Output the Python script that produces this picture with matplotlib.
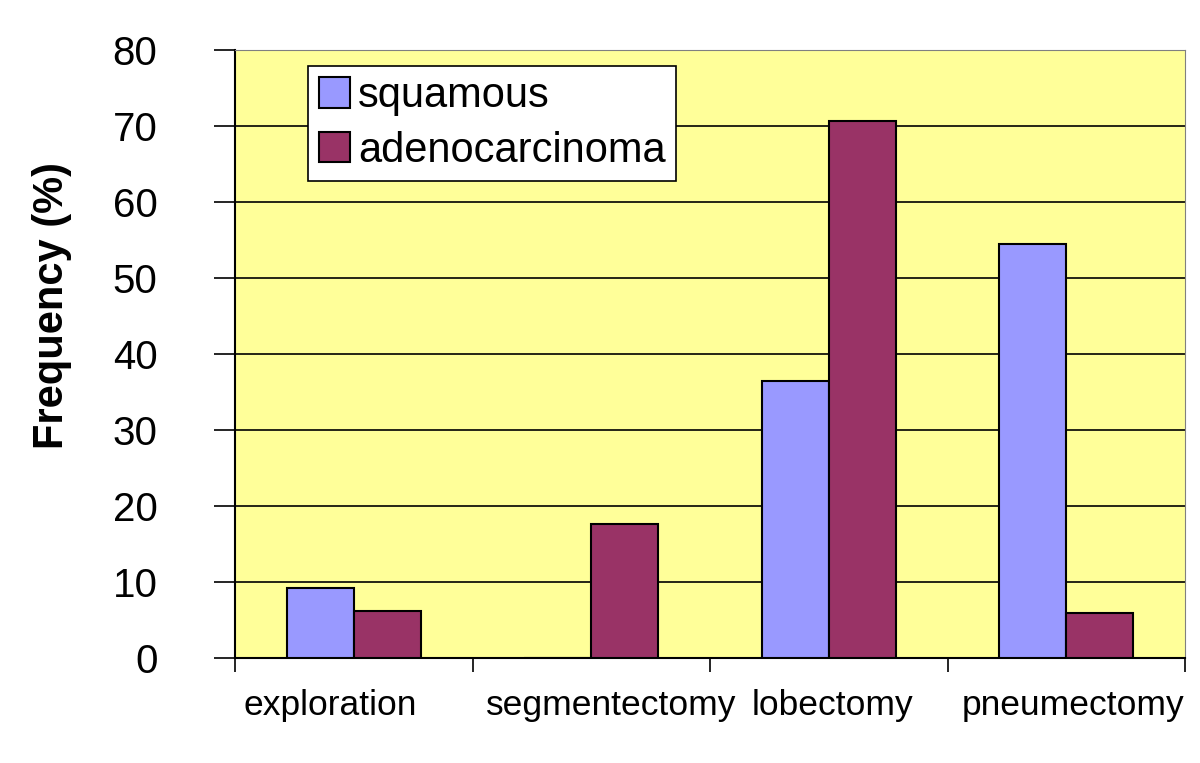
import matplotlib
matplotlib.use("Agg")
import matplotlib.pyplot as plt
import matplotlib.transforms as mtransforms
import numpy as np

plt.rcParams['font.family'] = ['Liberation Sans', 'DejaVu Sans']

# Data
categories = ["exploration", "segmentectomy", "lobectomy", "pneumectomy"]
squamous = [9.2, 0.0, 36.4, 54.4]
adenocarcinoma = [6.2, 17.6, 70.6, 5.9]

fig = plt.figure(figsize=(12, 7.63), dpi=100)
ax = fig.add_axes([0.196, 0.1376, 0.7915, 0.797])
ax.set_facecolor('#FFFF99')

x = np.arange(len(categories))
w = 0.282
ax.bar(x - w / 2, squamous, w, color='#9999FF', edgecolor='black', linewidth=1.5,
       label='squamous', zorder=3)
ax.bar(x + w / 2, adenocarcinoma, w, color='#993366', edgecolor='black', linewidth=1.5,
       label='adenocarcinoma', zorder=3)

ax.set_xlim(-0.5, len(categories) - 0.5)
ax.set_ylim(0, 80)
ax.set_yticks(np.arange(0, 81, 10))
ax.yaxis.grid(True, color='black', linewidth=1.2, zorder=0)
ax.set_axisbelow(True)

# category labels, tick marks on the boundaries
ax.set_xticks(x)
ax.set_xticklabels(categories, fontsize=25.5)
ax.tick_params(axis='x', length=0, pad=22)
ax.set_xticks(np.arange(-0.5, len(categories)), minor=True)
ax.tick_params(axis='x', which='minor', length=10, width=1.2, direction='out')
ax.tick_params(axis='y', labelsize=29, length=15, width=1.2, direction='out', pad=41)

# small horizontal nudges like the original's label placement (pixels)
nudges = [-24, 20, 4, 7]
for lab, dx in zip(ax.get_xticklabels(), nudges):
    lab.set_transform(lab.get_transform() + mtransforms.ScaledTranslation(dx / 100, 0, fig.dpi_scale_trans))

ax.spines['left'].set_linewidth(1.5)
ax.spines['bottom'].set_linewidth(1.5)
ax.spines['top'].set_color('#808080')
ax.spines['right'].set_color('#808080')

ax.set_ylabel('Frequency (%)', fontsize=30, fontweight='bold')
ax.yaxis.set_label_coords(-0.172, 0.579)

leg = ax.legend(loc='upper left', bbox_to_anchor=(0.077, 0.974), fontsize=30,
                frameon=True, fancybox=False, edgecolor='black', framealpha=1,
                handlelength=0.75, handleheight=0.75, handletextpad=0.2,
                labelspacing=0.35, borderpad=0.25, borderaxespad=0)
leg.get_frame().set_linewidth(1.2)

fig.savefig('out.png', dpi=100)
